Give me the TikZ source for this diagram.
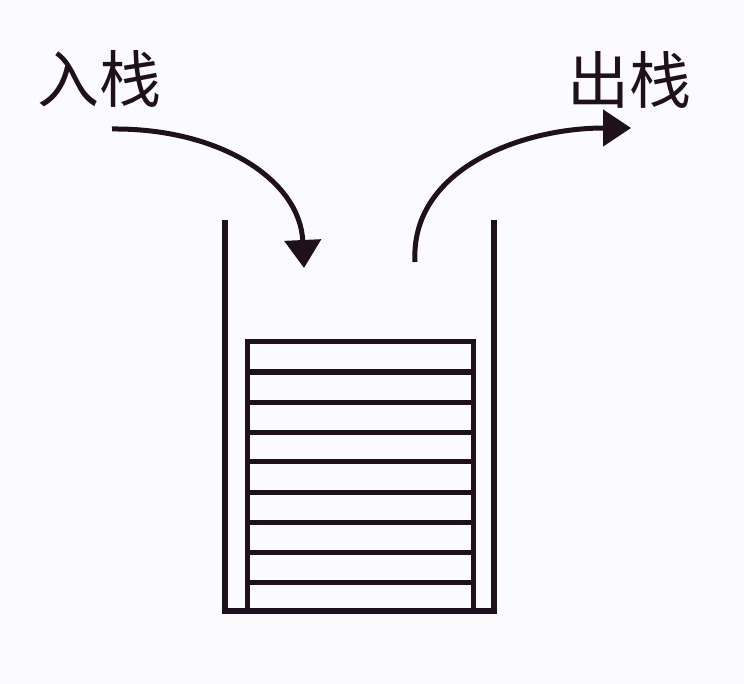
\documentclass[tikz,border=0pt]{standalone}
\usepackage{fontspec}
\newfontfamily\cjk{Noto Sans CJK SC}
\usetikzlibrary{arrows.meta}
\definecolor{ink}{HTML}{1E111C}
\definecolor{paper}{HTML}{FBFBFD}
\tikzset{
  wall/.style={draw=ink, line width=6pt, line join=miter},
  slot/.style={draw=ink, line width=5pt, line cap=rect},
  flow/.style={draw=ink, line width=5pt, -{Triangle[length=28pt,width=36pt]}},
  lbl/.style={text=ink, font=\cjk\fontsize{62}{66}\selectfont, inner sep=0pt}
}
\begin{document}
\begin{tikzpicture}[x=1pt,y=-1pt]
  \fill[paper] (0,0) rectangle (744,684);
  \useasboundingbox (0,0) rectangle (744,684);
  % labels
  \node[lbl] (in) at (99,79) {入栈};
  \node[lbl] (out) at (629,80) {出栈};
  % container
  \draw[wall] (225,220) -- (225,611) -- (494,611) -- (494,220);
  % stacked elements
  \draw[slot] (247,342) rectangle (473,611);
  \foreach \y in {372,402,432,461,492,522,552,582} {
    \draw[slot] (247,\y) -- (473,\y);
  }
  % arrows
  \coordinate (inS) at (112,129);
  \coordinate (inE) at (304,268);
  \coordinate (outS) at (415,262);
  \coordinate (outE) at (631,128);
  \draw[flow] (inS) .. controls (220,128) and (300,180) .. (inE);
  \draw[flow] (outS) .. controls (410,170) and (520,128) .. (outE);
\end{tikzpicture}
\end{document}
